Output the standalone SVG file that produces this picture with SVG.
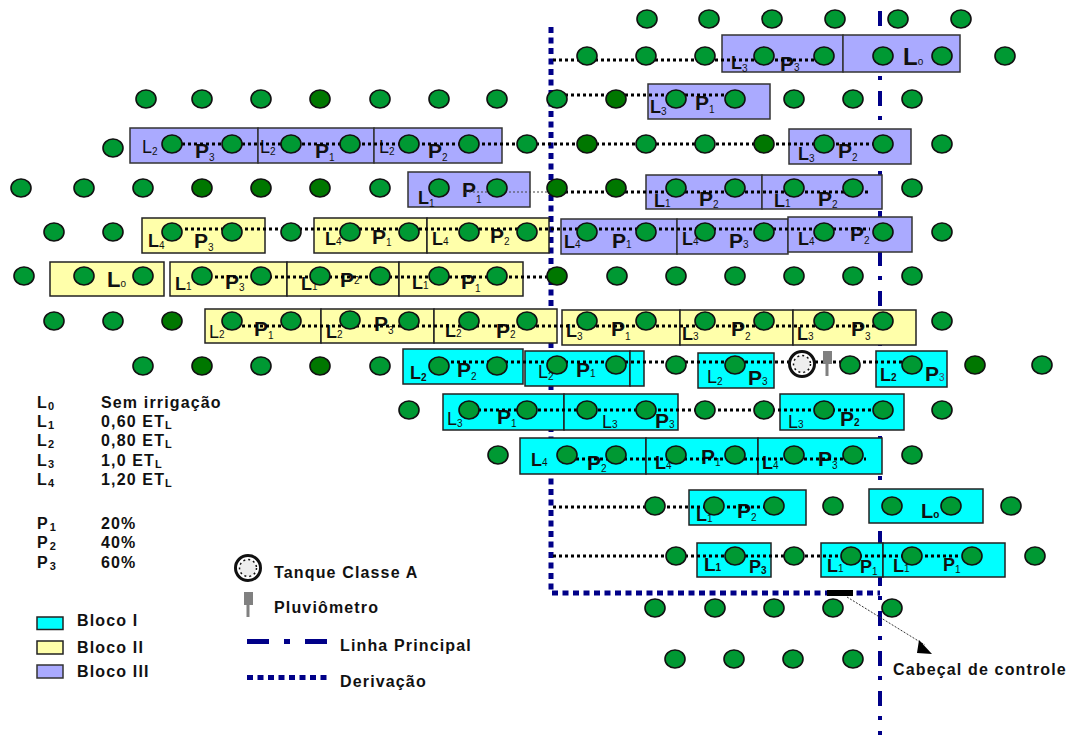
<svg xmlns="http://www.w3.org/2000/svg" width="1070" height="735" viewBox="0 0 1070 735">
<style>
text{font-family:"Liberation Sans",Arial,sans-serif;font-weight:bold;fill:#111}
.t{font-size:16px;letter-spacing:1.15px}
.ts{font-size:11px;font-weight:bold;letter-spacing:0}
.L{font-size:18px}
.P{font-size:21px}
.s{font-size:10px;font-weight:normal}
.a{fill:#0ff;stroke:#222;stroke-width:1.5}
.b{fill:#ffa;stroke:#222;stroke-width:1.5}
.c{fill:#aaf;stroke:#333;stroke-width:1.5}
.d{fill:none;stroke:#000;stroke-width:3;stroke-dasharray:3 3}
.m{fill:none;stroke:#008;stroke-width:4;stroke-dasharray:15 10 4 11}
.v{fill:none;stroke:#008;stroke-width:5;stroke-dasharray:6 4.5}
.g ellipse{fill:#093;stroke:#111;stroke-width:1.6;rx:10px;ry:9px}
.g ellipse.k{fill:#070}
</style>
<defs>
<g id="tq"><circle r="12.500" fill="#fff" stroke="#111" stroke-width="3"/><circle r="8.500" fill="#eee" stroke="#111" stroke-width="1.500" stroke-dasharray="2 3"/></g>
<g id="pl"><rect x="0" y="0" width="9" height="13" fill="#808080"/><rect x="2.500" y="13" width="3" height="12" fill="#808080"/></g>
</defs>
<g id="linhas-principais">
<path class="m" d="M880 11V735"/>
<path class="v" d="M551 27V593H880"/>
</g>
<g id="bloco-iii">
<g id="b3-r1"><rect class="c" x="722" y="35" width="121" height="37"/><rect class="c" x="843" y="35" width="117" height="37"/>
<text class="L" x="731" y="69" font-weight="normal">L<tspan class="s" dy="3">3</tspan></text><text class="P" x="780" y="71">P<tspan class="s" dy="0">3</tspan></text><text x="903" y="65" font-size="24">L<tspan class="s" font-size="12" dy="0">o</tspan></text></g>
<g id="b3-r2"><rect class="c" x="648" y="84" width="122" height="35"/>
<text class="L" x="650" y="113">L<tspan class="s" dy="2">3</tspan></text><text class="P" x="695" y="110">P<tspan class="s" dy="3">1</tspan></text></g>
<g id="b3-r3"><rect class="c" x="130" y="128" width="128" height="35"/><rect class="c" x="258" y="128" width="116" height="35"/><rect class="c" x="374" y="128" width="128" height="35"/>
<text class="L" x="142" y="153" style="font-weight:normal">L<tspan class="s" dy="2">2</tspan></text><text class="P" x="195" y="158">P<tspan class="s" dy="3">3</tspan></text>
<text class="L" x="260" y="153" style="font-weight:normal">L<tspan class="s" dy="2">2</tspan></text><text class="P" x="315" y="158">P<tspan class="s" dy="3">1</tspan></text>
<text class="L" x="379" y="153" style="font-weight:normal">L<tspan class="s" dy="2">2</tspan></text><text class="P" x="428" y="158">P<tspan class="s" dy="3">2</tspan></text></g>
<g id="b3-r3b"><rect class="c" x="789" y="129" width="122" height="35"/>
<text class="L" x="798" y="160">L<tspan class="s" dy="2">3</tspan></text><text class="P" x="838" y="158">P<tspan class="s" dy="3">2</tspan></text></g>
<g id="b3-r4"><rect class="c" x="408" y="172" width="122" height="35"/>
<text class="L" x="418" y="204">L<tspan class="s" dy="3">1</tspan></text><text class="P" x="462" y="197">P<tspan class="s" dy="6">1</tspan></text></g>
<g id="b3-r4b"><rect class="c" x="646" y="175" width="116" height="34"/><rect class="c" x="762" y="175" width="120" height="34"/>
<text class="L" x="654" y="207">L<tspan class="s" dy="0">1</tspan></text><text class="P" x="699" y="206">P<tspan class="s" dy="2">2</tspan></text>
<text class="L" x="774" y="207">L<tspan class="s" dy="0">1</tspan></text><text class="P" x="818" y="206">P<tspan class="s" dy="2">2</tspan></text></g>
<g id="b3-r5"><rect class="c" x="561" y="219" width="116" height="35"/><rect class="c" x="677" y="219" width="111" height="35"/><rect class="c" x="788" y="217" width="124" height="35"/>
<text class="L" x="564" y="248">L<tspan class="s" dy="0">4</tspan></text><text class="P" x="612" y="248">P<tspan class="s" dy="0">1</tspan></text>
<text class="L" x="682" y="245">L<tspan class="s" dy="0">4</tspan></text><text class="P" x="729" y="248">P<tspan class="s" dy="0">3</tspan></text>
<text class="L" x="798" y="245">L<tspan class="s" dy="0">4</tspan></text><text class="P" x="850" y="241">P<tspan class="s" dy="3">2</tspan></text></g>
</g>
<g id="bloco-ii">
<g id="b2-r1"><rect class="b" x="142" y="218" width="123" height="35"/><rect class="b" x="314" y="218" width="113" height="35"/><rect class="b" x="427" y="218" width="122" height="35"/>
<text class="L" x="148" y="247">L<tspan class="s" dy="2">4</tspan></text><text class="P" x="194" y="248">P<tspan class="s" dy="3">3</tspan></text>
<text class="L" x="325" y="245">L<tspan class="s" dy="0">4</tspan></text><text class="P" x="372" y="244">P<tspan class="s" dy="2">1</tspan></text>
<text class="L" x="432" y="245">L<tspan class="s" dy="0">4</tspan></text><text class="P" x="490" y="243">P<tspan class="s" dy="2">2</tspan></text></g>
<g id="b2-r2"><rect class="b" x="50" y="262" width="114" height="34"/><rect class="b" x="170" y="262" width="117" height="34"/><rect class="b" x="287" y="262" width="112" height="34"/><rect class="b" x="399" y="262" width="124" height="34"/>
<text x="107" y="287" font-size="22">L<tspan class="s" dy="0" font-size="11">o</tspan></text>
<text class="L" x="175" y="290">L<tspan class="s" dy="0">1</tspan></text><text class="P" x="225" y="289">P<tspan class="s" dy="2">3</tspan></text>
<text class="L" x="301" y="290">L<tspan class="s" dy="0">1</tspan></text><text class="P" x="340" y="287">P<tspan class="s" dy="-3">2</tspan></text>
<text class="L" x="412" y="289">L<tspan class="s" dy="0">1</tspan></text><text class="P" x="461" y="289">P<tspan class="s" dy="3">1</tspan></text></g>
<g id="b2-r3"><rect class="b" x="205" y="309" width="116" height="34"/><rect class="b" x="321" y="309" width="113" height="34"/><rect class="b" x="434" y="309" width="123" height="34"/>
<text class="L" x="209" y="338" style="font-weight:normal">L<tspan class="s" dy="0">2</tspan></text><text class="P" x="254" y="336">P<tspan class="s" dy="3">1</tspan></text>
<text class="L" x="326" y="338">L<tspan class="s" dy="0">2</tspan></text><text class="P" x="374" y="331">P<tspan class="s" dy="3">3</tspan></text>
<text class="L" x="445" y="337">L<tspan class="s" dy="0">2</tspan></text><text class="P" x="496" y="338">P<tspan class="s" dy="0">2</tspan></text></g>
<g id="b2-r4"><rect class="b" x="562" y="310" width="118" height="35"/><rect class="b" x="680" y="310" width="113" height="35"/><rect class="b" x="793" y="310" width="123" height="35"/>
<text class="L" x="566" y="337">L<tspan class="s" dy="3">3</tspan></text><text class="P" x="611" y="336">P<tspan class="s" dy="4">1</tspan></text>
<text class="L" x="682" y="340">L<tspan class="s" dy="0">3</tspan></text><text class="P" x="731" y="336">P<tspan class="s" dy="4">2</tspan></text>
<text class="L" x="797" y="340">L<tspan class="s" dy="0">3</tspan></text><text class="P" x="851" y="336">P<tspan class="s" dy="4">3</tspan></text></g>
</g>
<g id="bloco-i">
<g id="b1-r1"><rect class="a" x="403" y="349" width="120" height="35"/><rect class="a" x="525" y="351" width="105" height="35"/><rect class="a" x="630" y="351" width="14" height="35"/>
<text class="L" x="410" y="379">L<tspan class="s" dy="2" style="font-weight:bold">2</tspan></text><text class="P" x="457" y="377">P<tspan class="s" dy="3">2</tspan></text>
<text class="L" x="538" y="378" style="font-weight:normal">L<tspan class="s" dy="2">2</tspan></text><text class="P" x="576" y="377">P<tspan class="s" dy="0">1</tspan></text></g>
<g id="b1-r1b"><rect class="a" x="698" y="353" width="76" height="35"/>
<text class="L" x="707" y="383" style="font-weight:normal">L<tspan class="s" dy="2">2</tspan></text><text class="P" x="748" y="385">P<tspan class="s" dy="0">3</tspan></text></g>
<g id="b1-r1c"><rect class="a" x="876" y="351" width="71" height="36"/>
<text class="L" x="880" y="381">L<tspan class="s" dy="0" style="font-weight:bold">2</tspan></text><text class="P" x="925" y="381">P<tspan class="s" dy="0" style="fill:#446">3</tspan></text></g>
<g id="b1-r2"><rect class="a" x="443" y="394" width="121" height="36"/><rect class="a" x="564" y="394" width="114" height="36"/><rect class="a" x="780" y="394" width="124" height="36"/>
<text class="L" x="447" y="425" style="font-weight:normal">L<tspan class="s" dy="2">3</tspan></text><text class="P" x="497" y="424">P<tspan class="s" dy="3">1</tspan></text>
<text class="L" x="602" y="428" style="font-weight:normal">L<tspan class="s" dy="0">3</tspan></text><text class="P" x="655" y="428">P<tspan class="s" dy="0">3</tspan></text>
<text class="L" x="788" y="428" style="font-weight:normal">L<tspan class="s" dy="0">3</tspan></text><text class="P" x="840" y="426">P<tspan class="s" dy="0" style="font-weight:bold">2</tspan></text></g>
<g id="b1-r3"><rect class="a" x="520" y="438" width="126" height="36"/><rect class="a" x="646" y="438" width="112" height="36"/><rect class="a" x="758" y="438" width="124" height="36"/>
<text class="L" x="531" y="466">L<tspan class="s" dy="0">4</tspan></text><text class="P" x="587" y="470">P<tspan class="s" dy="2">2</tspan></text>
<text class="L" x="655" y="469">L<tspan class="s" dy="0">4</tspan></text><text class="P" x="701" y="464">P<tspan class="s" dy="2">1</tspan></text>
<text class="L" x="762" y="469">L<tspan class="s" dy="0">4</tspan></text><text class="P" x="818" y="466">P<tspan class="s" dy="3">3</tspan></text></g>
<g id="b1-r4"><rect class="a" x="689" y="490" width="117" height="35"/>
<text class="L" x="696" y="521">L<tspan class="s" dy="1">1</tspan></text><text class="P" x="737" y="518">P<tspan class="s" dy="3">2</tspan></text></g>
<g id="b1-r4b"><rect class="a" x="869" y="489" width="114" height="34"/>
<text x="921" y="518" font-size="20">L<tspan class="s" dy="0" font-size="11" style="font-weight:bold">o</tspan></text></g>
<g id="b1-r5"><rect class="a" x="697" y="543" width="74" height="34"/><rect class="a" x="821" y="543" width="62" height="34"/><rect class="a" x="883" y="543" width="122" height="34"/>
<text x="704" y="571" font-size="19">L<tspan class="s" dy="0" style="font-weight:bold">1</tspan></text><text class="L" x="749" y="573">P<tspan class="s" dy="1" style="font-weight:bold">3</tspan></text>
<text class="L" x="827" y="572">L<tspan class="s" dy="0">1</tspan></text><text class="L" x="860" y="573">P<tspan class="s" dy="2">1</tspan></text>
<text class="L" x="893" y="572">L<tspan class="s" dy="0">1</tspan></text><text class="L" x="943" y="571">P<tspan class="s" dy="2">1</tspan></text></g>
</g>
<g id="conectores">
<path class="d" d="M553 60H822M553 95H730M182 144H875M553 192H870M185 229H870M203 277H557M230 326H875M439 362H790M815 362H905M478 410H880M570 459H866M553 507H764M553 556H961"/>
<path d="M465 192H555" fill="none" stroke="#444" stroke-width="1.200" stroke-dasharray="2 2"/>
<path d="M847 597L925 645" fill="none" stroke="#333" stroke-width="1" stroke-dasharray="2 1.500"/>
<path d="M919 640L932 654L917 653Z" fill="#000"/>
<rect x="827" y="590" width="26" height="6" fill="#000"/>
</g>
<g id="arvores" class="g">
<ellipse cx="647" cy="19"/><ellipse cx="709" cy="19"/><ellipse cx="772" cy="19"/><ellipse cx="835" cy="19"/><ellipse cx="898" cy="19"/><ellipse cx="961" cy="19"/>
<ellipse cx="587" cy="56"/><ellipse cx="646" cy="56"/><ellipse cx="705" cy="56"/><ellipse cx="764" cy="56"/><ellipse cx="824" cy="56"/><ellipse cx="883" cy="56"/><ellipse cx="942" cy="56"/><ellipse cx="1005" cy="56"/>
<ellipse cx="146" cy="99"/><ellipse cx="202" cy="99"/><ellipse cx="261" cy="99"/><ellipse class="k" cx="320" cy="99"/><ellipse cx="380" cy="99"/><ellipse cx="439" cy="99"/><ellipse cx="497" cy="99"/><ellipse cx="557" cy="99"/><ellipse class="k" cx="616" cy="99"/><ellipse cx="676" cy="99"/><ellipse cx="735" cy="99"/><ellipse cx="794" cy="99"/><ellipse cx="853" cy="99"/><ellipse cx="912" cy="99"/>
<ellipse cx="113" cy="148"/><ellipse cx="172" cy="144"/><ellipse cx="232" cy="144"/><ellipse cx="291" cy="144"/><ellipse cx="350" cy="144"/><ellipse cx="409" cy="144"/><ellipse cx="469" cy="144"/><ellipse cx="527" cy="144"/><ellipse class="k" cx="587" cy="144"/><ellipse cx="646" cy="144"/><ellipse cx="705" cy="144"/><ellipse class="k" cx="764" cy="144"/><ellipse cx="824" cy="144"/><ellipse cx="883" cy="144"/><ellipse cx="942" cy="144"/>
<ellipse cx="21" cy="188"/><ellipse cx="84" cy="188"/><ellipse cx="143" cy="188"/><ellipse class="k" cx="202" cy="188"/><ellipse class="k" cx="261" cy="188"/><ellipse class="k" cx="320" cy="188"/><ellipse cx="380" cy="188"/><ellipse cx="439" cy="188"/><ellipse cx="497" cy="188"/><ellipse class="k" cx="557" cy="188"/><ellipse class="k" cx="616" cy="188"/><ellipse cx="676" cy="188"/><ellipse cx="735" cy="188"/><ellipse cx="794" cy="188"/><ellipse cx="853" cy="188"/><ellipse cx="912" cy="188"/>
<ellipse cx="54" cy="232"/><ellipse cx="113" cy="232"/><ellipse cx="172" cy="232"/><ellipse cx="232" cy="232"/><ellipse cx="291" cy="232"/><ellipse cx="350" cy="232"/><ellipse cx="409" cy="232"/><ellipse cx="469" cy="232"/><ellipse cx="527" cy="232"/><ellipse cx="587" cy="232"/><ellipse cx="646" cy="232"/><ellipse cx="705" cy="232"/><ellipse cx="764" cy="232"/><ellipse cx="824" cy="232"/><ellipse cx="883" cy="232"/><ellipse cx="942" cy="232"/>
<ellipse cx="24" cy="276"/><ellipse cx="84" cy="276"/><ellipse cx="143" cy="276"/><ellipse cx="202" cy="276"/><ellipse cx="261" cy="276"/><ellipse cx="320" cy="276"/><ellipse cx="380" cy="276"/><ellipse cx="439" cy="276"/><ellipse cx="497" cy="276"/><ellipse class="k" cx="557" cy="276"/><ellipse cx="617" cy="276"/><ellipse cx="676" cy="276"/><ellipse cx="735" cy="276"/><ellipse cx="794" cy="276"/><ellipse cx="853" cy="276"/><ellipse cx="912" cy="276"/>
<ellipse cx="54" cy="321"/><ellipse cx="113" cy="321"/><ellipse class="k" cx="172" cy="321"/><ellipse cx="232" cy="321"/><ellipse cx="291" cy="321"/><ellipse cx="350" cy="320"/><ellipse cx="409" cy="321"/><ellipse cx="469" cy="321"/><ellipse cx="527" cy="321"/><ellipse cx="587" cy="321"/><ellipse cx="646" cy="321"/><ellipse cx="705" cy="321"/><ellipse cx="764" cy="321"/><ellipse cx="824" cy="321"/><ellipse cx="883" cy="321"/><ellipse cx="942" cy="321"/>
<ellipse cx="143" cy="366"/><ellipse class="k" cx="202" cy="366"/><ellipse cx="261" cy="366"/><ellipse class="k" cx="320" cy="366"/><ellipse cx="380" cy="366"/><ellipse cx="439" cy="366"/><ellipse cx="497" cy="366"/><ellipse cx="557" cy="365"/><ellipse cx="616" cy="365"/><ellipse cx="676" cy="365"/><ellipse cx="735" cy="365"/><ellipse cx="850" cy="365"/><ellipse cx="912" cy="365"/><ellipse class="k" cx="975" cy="365"/><ellipse cx="1042" cy="365"/>
<ellipse cx="409" cy="410"/><ellipse cx="469" cy="410"/><ellipse cx="527" cy="410"/><ellipse cx="587" cy="410"/><ellipse cx="646" cy="410"/><ellipse cx="705" cy="410"/><ellipse cx="764" cy="410"/><ellipse cx="824" cy="410"/><ellipse cx="883" cy="410"/><ellipse cx="942" cy="410"/>
<ellipse cx="498" cy="455"/><ellipse cx="567" cy="455"/><ellipse cx="616" cy="455"/><ellipse cx="676" cy="455"/><ellipse cx="735" cy="455"/><ellipse cx="794" cy="455"/><ellipse cx="853" cy="455"/><ellipse cx="912" cy="455"/>
<ellipse cx="655" cy="506"/><ellipse cx="714" cy="506"/><ellipse cx="774" cy="506"/><ellipse cx="833" cy="506"/><ellipse cx="892" cy="506"/><ellipse cx="951" cy="506"/><ellipse cx="1011" cy="506"/>
<ellipse cx="676" cy="556"/><ellipse cx="735" cy="556"/><ellipse cx="794" cy="556"/><ellipse cx="851" cy="556"/><ellipse cx="912" cy="556"/><ellipse cx="972" cy="556"/><ellipse cx="1035" cy="556"/>
<ellipse cx="655" cy="608"/><ellipse cx="715" cy="608"/><ellipse cx="774" cy="608"/><ellipse cx="833" cy="608"/><ellipse cx="892" cy="608"/>
<ellipse cx="675" cy="659"/><ellipse cx="734" cy="659"/><ellipse cx="793" cy="659"/><ellipse cx="853" cy="659"/>
</g>
<g id="tanque"><use href="#tq" x="802" y="364"/></g>
<g id="pluviometro"><use href="#pl" x="823" y="351"/></g>
<g id="legenda-niveis">
<text class="t" x="37" y="408">L<tspan class="ts" dy="2">0</tspan></text><text class="t" x="101" y="408">Sem irrigação</text>
<text class="t" x="37" y="427">L<tspan class="ts" dy="2">1</tspan></text><text class="t" x="101" y="427">0,60 ET<tspan class="ts" dy="2">L</tspan></text>
<text class="t" x="37" y="446">L<tspan class="ts" dy="2">2</tspan></text><text class="t" x="101" y="446">0,80 ET<tspan class="ts" dy="2">L</tspan></text>
<text class="t" x="37" y="466">L<tspan class="ts" dy="2">3</tspan></text><text class="t" x="101" y="466">1,0 ET<tspan class="ts" dy="2">L</tspan></text>
<text class="t" x="37" y="485">L<tspan class="ts" dy="2">4</tspan></text><text class="t" x="101" y="485">1,20 ET<tspan class="ts" dy="2">L</tspan></text>
<text class="t" x="37" y="529">P<tspan class="ts" dy="2" dx="1">1</tspan></text><text class="t" x="101" y="529">20%</text>
<text class="t" x="37" y="548">P<tspan class="ts" dy="2" dx="1">2</tspan></text><text class="t" x="101" y="548">40%</text>
<text class="t" x="37" y="568">P<tspan class="ts" dy="2" dx="1">3</tspan></text><text class="t" x="101" y="568">60%</text>
</g>
<g id="legenda-blocos">
<rect class="a" x="37" y="617" width="26" height="12.500"/><text class="t" x="77" y="626">Bloco I</text>
<rect class="b" x="37" y="641" width="26" height="13"/><text class="t" x="77" y="653">Bloco II</text>
<rect class="c" x="37" y="665" width="26" height="13"/><text class="t" x="77" y="677">Bloco III</text>
</g>
<g id="legenda-simbolos">
<use href="#tq" x="248" y="568"/><text class="t" x="274" y="578">Tanque Classe A</text>
<use href="#pl" x="244" y="592"/><text class="t" x="274" y="613">Pluviômetro</text>
<path d="M247 641.500H269M284 641.500H290M305 641.500H327" fill="none" stroke="#008" stroke-width="5"/><text class="t" x="340" y="651">Linha Principal</text>
<path d="M247 677.500H327" fill="none" stroke="#008" stroke-width="5" stroke-dasharray="6 4.500"/><text class="t" x="340" y="687">Derivação</text>
</g>
<text class="t" x="893" y="675">Cabeçal de controle</text>
</svg>
